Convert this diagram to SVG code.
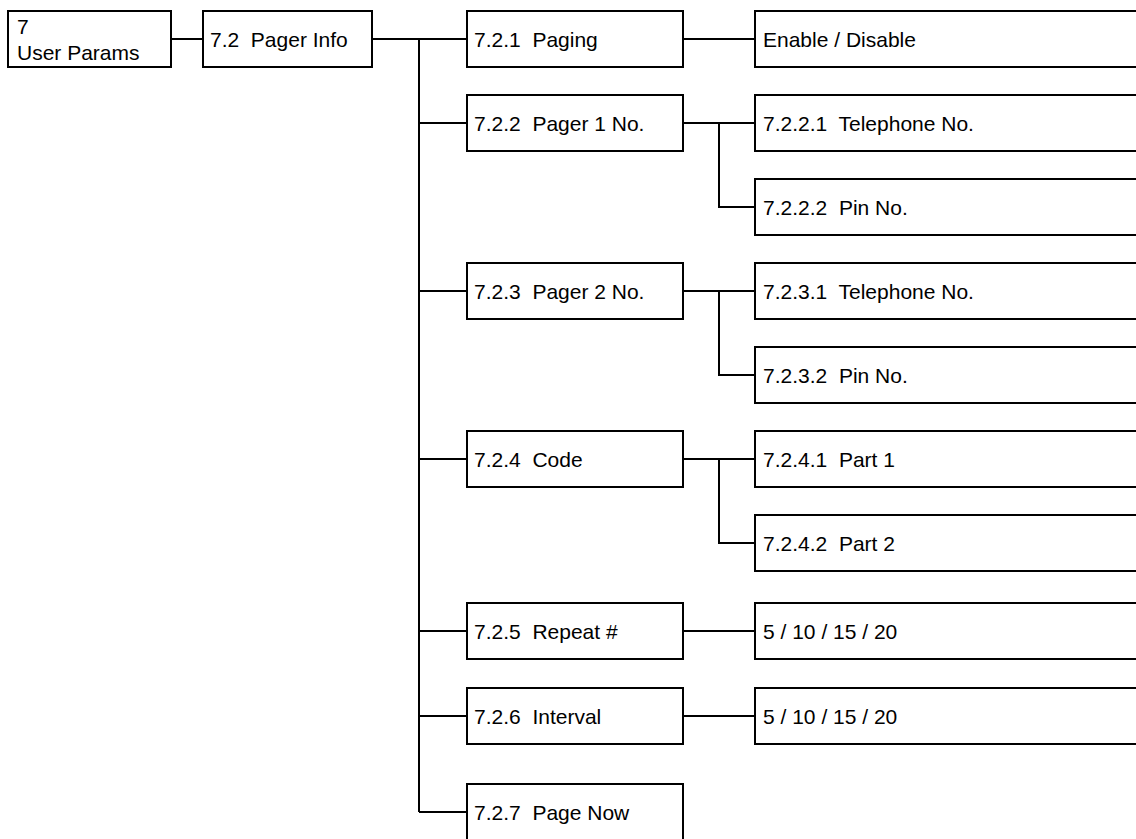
<svg xmlns="http://www.w3.org/2000/svg" width="1136" height="839" viewBox="0 0 1136 839">
<style>
.b{fill:#fff;stroke:#000;stroke-width:2}
.t{font-family:"Liberation Sans",Arial,sans-serif;font-size:21px;fill:#000;white-space:pre}
.c{fill:none;stroke:#000;stroke-width:2}
</style>
<rect width="1136" height="839" fill="#fff"/>
<g id="connectors">
<path class="c" d="M171 39H203"/>
<path class="c" d="M372 39H467M419 39V812"/>
<path class="c" d="M419 123H467M419 291H467M419 459H467M419 631H467M419 716H467M419 812H467"/>
<path class="c" d="M683 39H755"/>
<path class="c" d="M683 123H755M719 123V207H755"/>
<path class="c" d="M683 291H755M719 291V375H755"/>
<path class="c" d="M683 459H755M719 459V543H755"/>
<path class="c" d="M683 631H755"/>
<path class="c" d="M683 716H755"/>
</g>
<g id="n7"><rect class="b" x="8" y="11" width="163" height="56"/><text class="t" x="17" y="34">7</text><text class="t" x="17" y="60">User Params</text></g>
<g id="n72"><rect class="b" x="203" y="11" width="169" height="56"/><text class="t" x="210" y="47">7.2  Pager Info</text></g>
<g id="n721"><rect class="b" x="467" y="11" width="216" height="56"/><text class="t" x="474" y="47">7.2.1  Paging</text></g>
<g id="n722"><rect class="b" x="467" y="95" width="216" height="56"/><text class="t" x="474" y="131">7.2.2  Pager 1 No.</text></g>
<g id="n723"><rect class="b" x="467" y="263" width="216" height="56"/><text class="t" x="474" y="299">7.2.3  Pager 2 No.</text></g>
<g id="n724"><rect class="b" x="467" y="431" width="216" height="56"/><text class="t" x="474" y="467">7.2.4  Code</text></g>
<g id="n725"><rect class="b" x="467" y="603" width="216" height="56"/><text class="t" x="474" y="639">7.2.5  Repeat #</text></g>
<g id="n726"><rect class="b" x="467" y="688" width="216" height="56"/><text class="t" x="474" y="724">7.2.6  Interval</text></g>
<g id="n727"><rect class="b" x="467" y="784" width="216" height="60"/><text class="t" x="474" y="820">7.2.7  Page Now</text></g>
<g id="n7211"><rect class="b" x="755" y="11" width="390" height="56"/><text class="t" x="763" y="47">Enable / Disable</text></g>
<g id="n7221"><rect class="b" x="755" y="95" width="390" height="56"/><text class="t" x="763" y="131">7.2.2.1  Telephone No.</text></g>
<g id="n7222"><rect class="b" x="755" y="179" width="390" height="56"/><text class="t" x="763" y="215">7.2.2.2  Pin No.</text></g>
<g id="n7231"><rect class="b" x="755" y="263" width="390" height="56"/><text class="t" x="763" y="299">7.2.3.1  Telephone No.</text></g>
<g id="n7232"><rect class="b" x="755" y="347" width="390" height="56"/><text class="t" x="763" y="383">7.2.3.2  Pin No.</text></g>
<g id="n7241"><rect class="b" x="755" y="431" width="390" height="56"/><text class="t" x="763" y="467">7.2.4.1  Part 1</text></g>
<g id="n7242"><rect class="b" x="755" y="515" width="390" height="56"/><text class="t" x="763" y="551">7.2.4.2  Part 2</text></g>
<g id="n7251"><rect class="b" x="755" y="603" width="390" height="56"/><text class="t" x="763" y="639">5 / 10 / 15 / 20</text></g>
<g id="n7261"><rect class="b" x="755" y="688" width="390" height="56"/><text class="t" x="763" y="724">5 / 10 / 15 / 20</text></g>
</svg>
